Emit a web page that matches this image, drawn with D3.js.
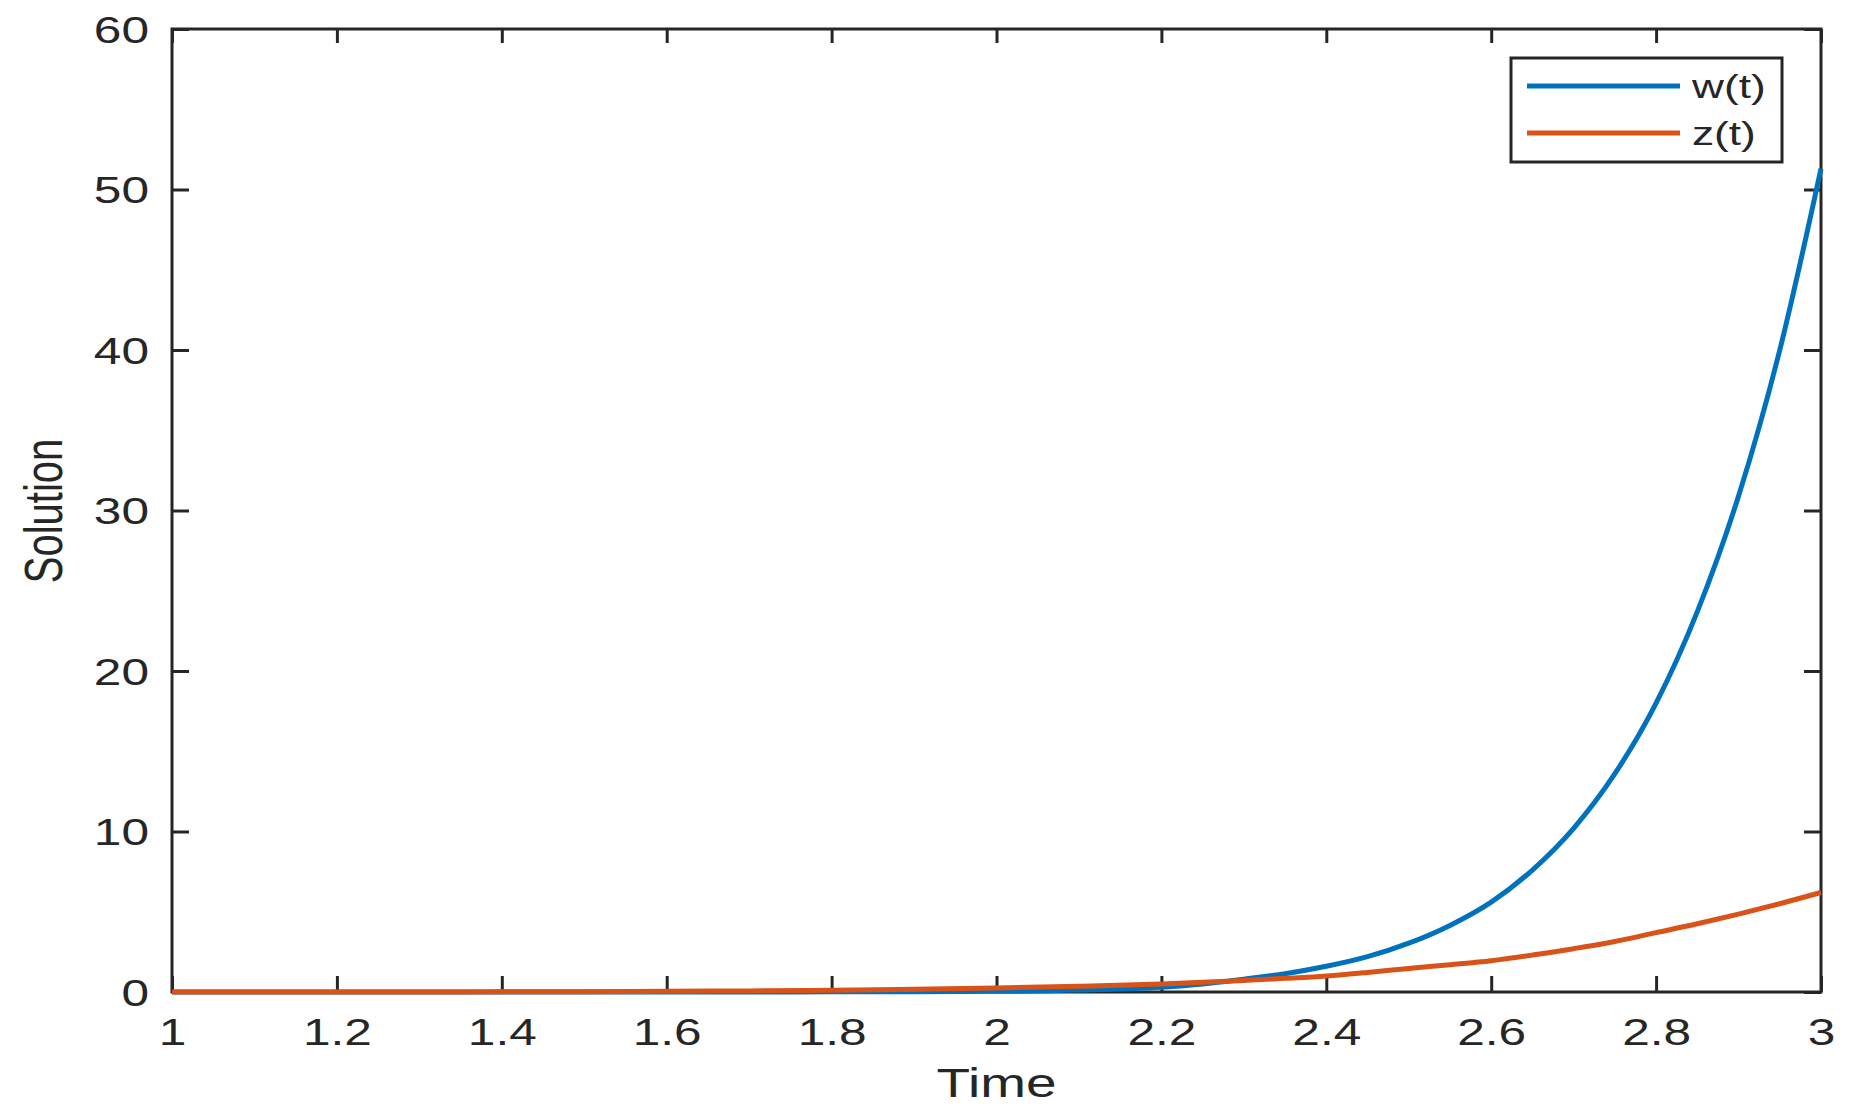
<!DOCTYPE html>
<html>
<head>
<meta charset="utf-8">
<script src="https://cdn.jsdelivr.net/npm/d3@7"></script>
<style>
    html, body { margin: 0; padding: 0; background: #fff; }
    svg text { font-family: "Liberation Sans", Arial, Helvetica, sans-serif; fill: #262626; }
</style>
</head>
<body>
<svg id="chart" width="1850" height="1120"></svg>
<script>
/* Values */
let times = [1.0, 1.1, 1.2, 1.3, 1.4, 1.5, 1.6, 1.7, 1.8, 1.9, 2.0, 2.1, 2.2, 2.25, 2.3, 2.35, 2.4, 2.45, 2.5, 2.55, 2.6, 2.65, 2.7, 2.75, 2.8, 2.85, 2.9, 2.95, 3.0];
let wValues = [0, 0, 0, 0, 0, 0, 0, 0.005, 0.01, 0.02, 0.04, 0.12, 0.3, 0.5, 0.8, 1.14, 1.6, 2.2, 3.04, 4.15, 5.6, 7.6, 10.2, 13.6, 18.0, 23.7, 30.9, 40.0, 51.3];
let zValues = [0, 0, 0.002, 0.005, 0.01, 0.02, 0.04, 0.07, 0.11, 0.17, 0.25, 0.36, 0.5, 0.6, 0.72, 0.85, 1.0, 1.22, 1.47, 1.7, 1.95, 2.3, 2.7, 3.15, 3.7, 4.25, 4.85, 5.5, 6.2];
let xTicks = [1, 1.2, 1.4, 1.6, 1.8, 2, 2.2, 2.4, 2.6, 2.8, 3];
let yTicks = [0, 10, 20, 30, 40, 50, 60];
let seriesNames = ['w(t)', 'z(t)'];
let seriesColors = ['#0072BD', '#D95319'];

let box = {left: 172, right: 1821, top: 29, bottom: 992};
let ink = '#262626';
let stretch = 1.34;

let svg = d3.select('#chart');

let x = d3.scaleLinear().domain([1, 3]).range([box.left, box.right]);
let y = d3.scaleLinear().domain([0, 60]).range([box.bottom, box.top]);

/* Ticks on all four sides, pointing inward */
function styleAxis(g) {
    g.select('.domain').remove();
    g.selectAll('.tick line').attr('stroke', ink).attr('stroke-width', 3);
}

let bottomAxis = svg.append('g')
    .attr('transform', `translate(0,${box.bottom})`)
    .call(d3.axisBottom(x).tickValues(xTicks).tickSize(-16).tickFormat(d3.format('')))
    .call(styleAxis);
bottomAxis.selectAll('.tick text')
    .attr('y', 0).attr('dy', 0)
    .attr('font-size', 37)
    .attr('fill', ink)
    .attr('transform', `translate(0,53) scale(${stretch},1)`);

svg.append('g')
    .attr('transform', `translate(0,${box.top})`)
    .call(d3.axisTop(x).tickValues(xTicks).tickSize(-14).tickFormat(''))
    .call(styleAxis);

let leftAxis = svg.append('g')
    .attr('transform', `translate(${box.left},0)`)
    .call(d3.axisLeft(y).tickValues(yTicks).tickSize(-17))
    .call(styleAxis);
leftAxis.selectAll('.tick text')
    .attr('x', 0).attr('dy', '0.36em')
    .attr('font-size', 37)
    .attr('fill', ink)
    .attr('text-anchor', 'end')
    .attr('transform', `translate(-23,0) scale(${stretch},1)`);

svg.append('g')
    .attr('transform', `translate(${box.right},0)`)
    .call(d3.axisRight(y).tickValues(yTicks).tickSize(-17).tickFormat(''))
    .call(styleAxis);

/* Axis frame */
svg.append('rect')
    .attr('x', box.left).attr('y', box.top)
    .attr('width', box.right - box.left).attr('height', box.bottom - box.top)
    .attr('fill', 'none').attr('stroke', ink).attr('stroke-width', 3);

/* Curves: w first, z drawn on top */
let line = d3.line()
    .x(d => x(d[0]))
    .y(d => y(d[1]))
    .curve(d3.curveMonotoneX);

[wValues, zValues].forEach((vals, i) => {
    svg.append('path')
        .datum(times.map((t, j) => [t, vals[j]]))
        .attr('d', line)
        .attr('fill', 'none')
        .attr('stroke', seriesColors[i])
        .attr('stroke-width', 5)
        .attr('stroke-linejoin', 'round');
});

/* Axis labels */
svg.append('text')
    .attr('font-size', 41)
    .attr('text-anchor', 'middle')
    .attr('transform', `translate(${(box.left + box.right) / 2},1097) scale(${stretch},1)`)
    .text('Time');

svg.append('text')
    .attr('font-size', 40)
    .attr('text-anchor', 'middle')
    .attr('transform', `translate(62,511) scale(${stretch},1) rotate(-90)`)
    .text('Solution');

/* Legend */
let legend = svg.append('g');
legend.append('rect')
    .attr('x', 1511).attr('y', 58)
    .attr('width', 271).attr('height', 104)
    .attr('fill', '#fff').attr('stroke', ink).attr('stroke-width', 3);

seriesNames.forEach((name, i) => {
    let ly = 86 + i * 47;
    legend.append('line')
        .attr('x1', 1527).attr('x2', 1680)
        .attr('y1', ly).attr('y2', ly)
        .attr('stroke', seriesColors[i]).attr('stroke-width', 5);
    legend.append('text')
        .attr('font-size', 34)
        .attr('fill', '#000')
        .attr('transform', `translate(1692,${ly + 12}) scale(1.3,1)`)
        .text(name);
});
</script>
</body>
</html>
